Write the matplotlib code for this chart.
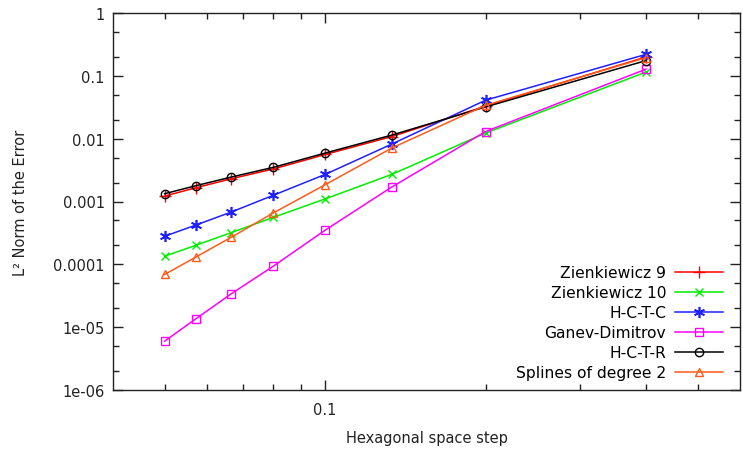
import math
import matplotlib
matplotlib.use("Agg")
import matplotlib.pyplot as plt
from matplotlib.ticker import LogLocator, FixedLocator, FuncFormatter, NullFormatter

# hexagonal space steps 2/n, n = 5..40
steps = [2/40, 2/35, 2/30, 2/25, 2/20, 2/15, 2/10, 2/5]

zienk9 = [1.22e-3, 1.65e-3, 2.3e-3, 3.3e-3, 5.6e-3, 1.08e-2, 3.3e-2, 0.20]
zienk10 = [1.35e-4, 2.0e-4, 3.2e-4, 5.6e-4, 1.1e-3, 2.7e-3, 1.23e-2, 0.115]
hctc = [2.8e-4, 4.2e-4, 6.8e-4, 1.26e-3, 2.7e-3, 8.2e-3, 4.1e-2, 0.22]
ganev = [6.0e-6, 1.35e-5, 3.4e-5, 9.4e-5, 3.5e-4, 1.7e-3, 1.3e-2, 0.128]
hctr = [1.33e-3, 1.78e-3, 2.45e-3, 3.5e-3, 5.9e-3, 1.14e-2, 3.2e-2, 0.175]
splines = [6.9e-5, 1.3e-4, 2.7e-4, 6.6e-4, 1.85e-3, 7.1e-3, 3.4e-2, 0.195]

fig = plt.figure(figsize=(7.43, 4.52), dpi=100)
ax = fig.add_axes([113/743, 1 - 391/452, 627/743, 377/452])

fs = 10.5
ax.plot(steps, zienk9, color='#ff0000', marker='+', ms=8, mew=1, lw=1.1, label='Zienkiewicz 9')
ax.plot(steps, zienk10, color='#00ee00', marker='x', ms=6, mew=1, lw=1.1, label='Zienkiewicz 10')
ax.plot(steps, hctc, color='#2020ff', marker=(6, 2, 0), ms=8, mew=1.2, lw=1.1, label='H-C-T-C')
ax.plot(steps, ganev, color='#ff00ff', marker='s', ms=6, mfc='none', mew=1, lw=1.1, label='Ganev-Dimitrov')
ax.plot(steps, hctr, color='#000000', marker='o', ms=6, mfc='none', mew=1, lw=1.1, label='H-C-T-R')
ax.plot(steps, splines, color='#ff5a1a', marker='^', ms=6, mfc='none', mew=1, lw=1.1, label='Splines of degree 2')

ax.set_xscale('log')
ax.set_yscale('log')
ax.set_xlim(0.04, 0.6)
ax.set_ylim(1e-6, 1)

ax.xaxis.set_major_locator(FixedLocator([0.1]))
ax.xaxis.set_minor_locator(FixedLocator([0.05, 0.06, 0.07, 0.08, 0.09, 0.2, 0.3, 0.4, 0.5]))
ax.xaxis.set_major_formatter(FuncFormatter(lambda v, p: '0.1'))
ax.xaxis.set_minor_formatter(NullFormatter())

ylabels = {0: '1', -1: '0.1', -2: '0.01', -3: '0.001', -4: '0.0001', -5: '1e-05', -6: '1e-06'}
ax.yaxis.set_major_locator(LogLocator(base=10, numticks=10))
ax.yaxis.set_minor_locator(LogLocator(base=10, subs=(2, 5), numticks=10))
ax.yaxis.set_major_formatter(FuncFormatter(lambda v, p: ylabels.get(int(round(math.log10(v))), '')))
ax.yaxis.set_minor_formatter(NullFormatter())

ax.tick_params(which='both', direction='in', top=True, right=True, labelsize=fs, colors='#222222')
ax.tick_params(which='major', length=7, width=1, pad=6)
ax.tick_params(which='minor', length=4, width=1)
ax.tick_params(axis='x', which='major', pad=9)
for s in ax.spines.values():
    s.set_linewidth(1)
    s.set_color('#222222')

ax.set_xlabel('Hexagonal space step', fontsize=fs, color='#222222', labelpad=9)
ax.set_ylabel('L² Norm of the Error', fontsize=fs, color='#222222', labelpad=18)

ax.legend(loc='lower right', bbox_to_anchor=(723/743, 1 - 381/452), bbox_transform=fig.transFigure,
          frameon=False, markerfirst=False, fontsize=11.2, handlelength=3.1, handletextpad=0.55,
          labelspacing=0.32, borderpad=0, borderaxespad=0, markerscale=1.0)

fig.savefig('out.png', dpi=100)
